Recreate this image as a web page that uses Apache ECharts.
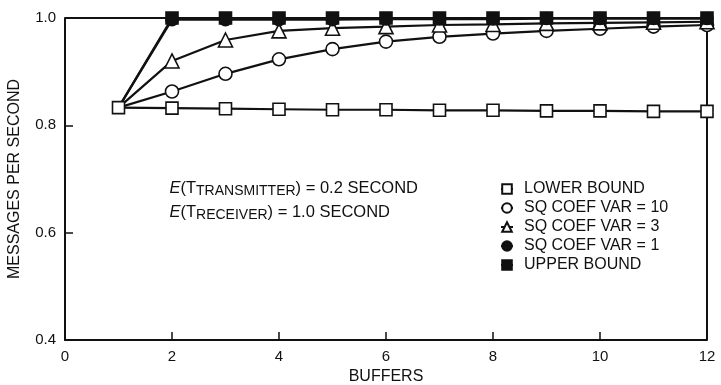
<!DOCTYPE html>
<html>
<head>
<meta charset="utf-8">
<script src="https://cdn.jsdelivr.net/npm/echarts@6/dist/echarts.min.js"></script>
<style>
html,body{margin:0;padding:0;background:#fff;}
#chart{width:721px;height:385px;}
</style>
</head>
<body>
<div id="chart"></div>
<script>
var buffers = [1, 2, 3, 4, 5, 6, 7, 8, 9, 10, 11, 12];
var lowerBound = [0.833, 0.832, 0.831, 0.830, 0.829, 0.829, 0.828, 0.828, 0.827, 0.827, 0.826, 0.826];
var sqVar10 = [0.833, 0.863, 0.896, 0.923, 0.942, 0.956, 0.965, 0.971, 0.976, 0.980, 0.984, 0.987];
var sqVar3 = [0.833, 0.920, 0.959, 0.976, 0.981, 0.984, 0.987, 0.988, 0.990, 0.991, 0.992, 0.993];
var sqVar1 = [0.833, 0.997, 0.997, 0.997, 0.997, 0.998, 0.998, 0.998, 0.999, 0.999, 0.999, 0.999];
var upperBound = [0.833, 1.0, 1.0, 1.0, 1.0, 1.0, 1.0, 1.0, 1.0, 1.0, 1.0, 1.0];
var seriesNames = ['LOWER BOUND', 'SQ COEF VAR = 10', 'SQ COEF VAR = 3', 'SQ COEF VAR = 1', 'UPPER BOUND'];

var fontFam = 'Liberation Sans, Arial, sans-serif';

// shared start point at 1 buffer only shows the lower bound's square
function pairs(vals, hideFirst) {
    var out = [];
    for (var i = 0; i < buffers.length; i++) {
        if (i == 0 && hideFirst) {
            out.push({value: [buffers[i], vals[i]], symbol: 'none'});
        } else {
            out.push([buffers[i], vals[i]]);
        }
    }
    return out;
}

function mkSeries(name, vals, symbol, hollow, size, hideFirst) {
    return {
        name: name,
        type: 'line',
        data: pairs(vals, hideFirst),
        symbol: symbol,
        symbolSize: size,
        showAllSymbol: true,
        lineStyle: {color: '#111', width: 2.2},
        itemStyle: {
            color: hollow ? '#fff' : '#111',
            borderColor: '#111',
            borderWidth: 1.6
        },
        emphasis: {disabled: true},
        animation: false
    };
}

var myChart = echarts.init(document.getElementById('chart'));
var option = {
    backgroundColor: '#fff',
    textStyle: {fontFamily: fontFam},
    grid: {left: 65, right: 14, top: 18, bottom: 45, show: false, outerBoundsMode: 'none'},
    legend: {
        orient: 'vertical',
        left: 495,
        top: 176,
        itemGap: 3,
        itemWidth: 12,
        itemHeight: 12,
        textStyle: {fontSize: 16, color: '#111', fontFamily: fontFam, padding: [0, 0, 0, 6]},
        data: seriesNames.map(function (n) {
            return {name: n};
        }),
        selectedMode: false
    },
    xAxis: {
        type: 'value',
        min: 0,
        max: 12,
        interval: 2,
        name: 'BUFFERS',
        nameLocation: 'middle',
        nameGap: 29,
        nameTextStyle: {fontSize: 16, color: '#111'},
        axisLine: {onZero: false, lineStyle: {color: '#111', width: 2}},
        axisTick: {inside: true, length: 8, lineStyle: {color: '#111', width: 1.5}},
        axisLabel: {fontSize: 15, color: '#111', margin: 9},
        splitLine: {show: false}
    },
    yAxis: {
        type: 'value',
        min: 0.4,
        max: 1.0,
        interval: 0.2,
        name: 'MESSAGES PER SECOND',
        nameLocation: 'middle',
        nameGap: 42,
        nameTextStyle: {fontSize: 16, color: '#111'},
        axisLine: {lineStyle: {color: '#111', width: 2}},
        axisTick: {inside: true, length: 8, lineStyle: {color: '#111', width: 1.5}},
        axisLabel: {fontSize: 15, color: '#111', margin: 9, formatter: function (v) { return v.toFixed(1); }},
        splitLine: {show: false}
    },
    graphic: [
        {
            type: 'line',
            shape: {x1: 65, y1: 18, x2: 707, y2: 18},
            style: {stroke: '#111', lineWidth: 2},
            z: 1
        },
        {
            type: 'line',
            shape: {x1: 707, y1: 18, x2: 707, y2: 340},
            style: {stroke: '#111', lineWidth: 2},
            z: 1
        },
        {
            type: 'text',
            right: 721 - 418,
            top: 176,
            style: {
                text: '{i|E}(T{s|TRANSMITTER}) = 0.2 SECOND\n{i|E}(T{s|RECEIVER}) = 1.0 SECOND',
                align: 'right',
                fontSize: 16.5,
                fontFamily: fontFam,
                fill: '#111',
                lineHeight: 24,
                rich: {
                    i: {fontStyle: 'italic', fontSize: 16.5, fontFamily: fontFam, fill: '#111'},
                    s: {fontSize: 14, fontFamily: fontFam, fill: '#111', padding: [7, 0, 0, 0]}
                }
            }
        }
    ],
    series: [
        mkSeries(seriesNames[0], lowerBound, 'rect', true, 12, false),
        mkSeries(seriesNames[1], sqVar10, 'circle', true, 13, true),
        mkSeries(seriesNames[2], sqVar3, 'triangle', true, 14, true),
        mkSeries(seriesNames[3], sqVar1, 'circle', false, 12, true),
        mkSeries(seriesNames[4], upperBound, 'rect', false, 12, true)
    ]
};
myChart.setOption(option);
</script>
</body>
</html>
